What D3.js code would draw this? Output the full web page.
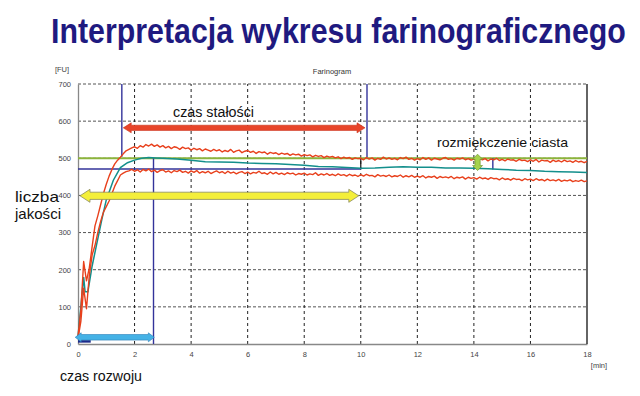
<!DOCTYPE html>
<html>
<head>
<meta charset="utf-8">
<script src="https://cdn.jsdelivr.net/npm/d3@7"></script>
<style>
  body { margin: 0; background: #fff; }
  svg { display: block; }
</style>
</head>
<body>
<svg id="chart" width="640" height="396"></svg>
<script>
// --- data ---
var xTicks = [0, 2, 4, 6, 8, 10, 12, 14, 16, 18];
var yTicks = [0, 100, 200, 300, 400, 500, 600, 700];

// upper edge of the band (red), one value every 0.1 min
var redStep = 0.1;
var upperRed = [
  20, 90, 222, 170, 205, 262, 318, 345, 375, 405,
  430, 452, 470, 485, 495, 503, 512, 520, 524, 528,
  531, 527, 534, 530, 537, 533, 538, 532, 536, 530,
  534, 528, 532, 526, 531, 529, 524, 530, 526, 528,
  522, 527, 523, 526, 520, 525, 522, 519, 524, 520,
  523, 517, 521, 518, 524, 516, 520, 522, 515, 519,
  521, 516, 519, 513, 518, 515, 517, 511, 516, 513,
  515, 510, 514, 511, 513, 508, 512, 509, 511, 506,
  510, 507, 509, 504, 508, 505, 507, 502, 506, 503,
  505, 501, 504, 499, 503, 500, 502, 497, 501, 499,
  500, 496, 502, 498, 501, 495, 500, 497, 503, 498,
  501, 497, 500, 496, 502, 499, 503, 497, 500, 495,
  499, 496, 502, 497, 501, 495, 500, 498, 496, 500,
  502, 497, 499, 495, 500, 498, 501, 496, 499, 495,
  498, 494, 500, 496, 499, 493, 498, 496, 500, 494,
  497, 493, 498, 495, 496, 492, 497, 494, 495, 491,
  496, 492, 497, 490, 495, 493, 494, 489, 495, 491,
  494, 490, 495, 491, 493, 489, 494, 490, 492, 488,
  492
];
// lower edge of the band (red)
var lowerRed = [
  15, 60, 150, 95, 185, 240, 265, 300, 330, 355,
  370, 385, 405, 425, 440, 455, 460, 464, 466, 470,
  465, 469, 463, 470, 466, 471, 464, 468, 462, 467,
  469, 463, 466, 461, 467, 464, 468, 462, 465, 460,
  466, 462, 467, 460, 464, 461, 465, 459, 463, 466,
  461, 464, 459, 465, 460, 463, 458, 462, 464, 459,
  463, 458, 462, 460, 465, 459, 461, 457, 463, 458,
  462, 457, 460, 456, 461, 458, 460, 455, 459, 457,
  460, 455, 458, 456, 461, 454, 458, 455, 459, 454,
  457, 453, 458, 454, 456, 452, 457, 453, 455, 451,
  456, 452, 457, 453, 454, 450, 456, 452, 454, 451,
  455, 450, 453, 451, 455, 449, 453, 450, 454, 449,
  452, 449, 453, 447, 451, 449, 452, 446, 451, 448,
  450, 447, 451, 445, 449, 447, 450, 444, 449, 446,
  448, 444, 449, 445, 447, 443, 448, 445, 446, 442,
  447, 443, 445, 441, 446, 443, 444, 440, 445, 442,
  444, 440, 445, 441, 443, 439, 444, 440, 442, 439,
  443, 438, 441, 439, 442, 437, 440, 438, 441, 437,
  439
];
// centre line (teal)
var tealTime = [0, 0.1, 0.2, 0.25, 0.35, 0.5, 0.65, 0.84, 1.0, 1.25, 1.5, 1.75,
  2.0, 2.25, 2.5, 2.75, 3, 3.5, 4, 4.5, 5, 5.5, 6, 6.5, 7, 7.5, 8, 8.5, 9, 9.5,
  10, 10.5, 11, 11.5, 12, 12.5, 13, 13.5, 14, 14.5, 15, 15.5, 16, 16.5, 17, 17.5, 18];
var tealFU = [20, 100, 180, 141, 141, 210, 265, 334, 388, 441, 475, 488,
  495, 500, 502, 501, 500, 498, 495, 491, 490, 489, 487, 486, 485, 483, 481, 478, 477, 475,
  473, 474, 476, 477, 476, 476, 474, 474, 473, 472, 470, 468, 467, 465, 464, 463, 462];

// reading lines: [time, fuFrom, fuTo]
var consistencyLine = 500;
var navyVerticals = [[1.55, 700, 504], [2.67, 500, 0], [10.22, 700, 503], [14.67, 500, 470]];
var blackVertical = [10.0, 500, 471];
var navyHorizontal = [0, 10.0, 471];
var navyStartLine = [0, 0.45, 7];

// double arrows: [from, to, at]
var stabilityArrow = [1.6, 10.15, 582];
var qualityArrow = [0.07, 9.93, 399];
var developmentArrow = [-0.1, 2.7, 18];
var softeningArrow = [14.13, 511, 467];

// --- layout ---
var svg = d3.select("#chart");
var x = d3.scaleLinear().domain([0, 18]).range([78, 587]);
var y = d3.scaleLinear().domain([0, 700]).range([344, 84]);

// title, squeezed horizontally to the slide's narrow lettering
var title = svg.append("text")
  .style("font-family", "'Liberation Sans Narrow', 'Arial Narrow', 'Liberation Sans', sans-serif")
  .style("font-weight", "bold").style("font-size", "36px")
  .style("fill", "#1f1a80")
  .text("Interpretacja wykresu farinograficznego");
var titleW = title.node().getComputedTextLength();
title.attr("transform", "translate(51,43) scale(" + (575 / titleW) + ",1)");

svg.append("text")
  .attr("x", 332).attr("y", 74).attr("text-anchor", "middle")
  .style("font-family", "'Liberation Sans', Arial, sans-serif").style("font-size", "7.5px")
  .style("fill", "#333").text("Farinogram");

// grid
var grid = svg.append("g");
grid.selectAll(".hg").data(yTicks.filter(function(d) { return d > 0; }))
  .enter().append("line")
    .attr("x1", x(0)).attr("x2", x(18))
    .attr("y1", function(d) { return y(d); }).attr("y2", function(d) { return y(d); })
    .attr("stroke", "#555").attr("stroke-width", 1).attr("stroke-dasharray", "3,2");
grid.selectAll(".vg").data(xTicks.filter(function(d) { return d > 0 && d < 18; }))
  .enter().append("line")
    .attr("y1", y(0)).attr("y2", y(700))
    .attr("x1", function(d) { return x(d); }).attr("x2", function(d) { return x(d); })
    .attr("stroke", "#222").attr("stroke-width", 1).attr("stroke-dasharray", "3,3");

// axes
var ax = d3.axisBottom(x).tickValues(xTicks).tickSize(0).tickPadding(8);
var gx = svg.append("g").attr("transform", "translate(0," + y(0) + ")").call(ax);
var ay = d3.axisLeft(y).tickValues(yTicks).tickSize(0).tickPadding(7);
var gy = svg.append("g").attr("transform", "translate(" + x(0) + ",0)").call(ay);
[gx, gy].forEach(function(g) {
  g.select(".domain").attr("stroke", "#888").attr("stroke-width", 1.3);
  g.selectAll("text").style("font-family", "'Liberation Sans', Arial, sans-serif")
    .style("font-size", "7.5px").style("fill", "#444");
});
svg.append("line")
  .attr("x1", x(18)).attr("x2", x(18)).attr("y1", y(0)).attr("y2", y(700))
  .attr("stroke", "#111").attr("stroke-width", 1.3);

svg.append("text").attr("x", 62).attr("y", 72).attr("text-anchor", "middle")
  .style("font-family", "'Liberation Sans', Arial, sans-serif").style("font-size", "7.5px")
  .style("fill", "#444").text("[FU]");
svg.append("text").attr("x", 599).attr("y", 368).attr("text-anchor", "middle")
  .style("font-family", "'Liberation Sans', Arial, sans-serif").style("font-size", "7.5px")
  .style("fill", "#444").text("[min]");

// consistency line at 500 FU
svg.append("line")
  .attr("x1", x(0)).attr("x2", x(18))
  .attr("y1", y(consistencyLine)).attr("y2", y(consistencyLine))
  .attr("stroke", "#8cb43c").attr("stroke-width", 2);

// navy reading lines
svg.selectAll(".nv").data(navyVerticals).enter().append("line")
  .attr("x1", function(d) { return x(d[0]); }).attr("x2", function(d) { return x(d[0]); })
  .attr("y1", function(d) { return y(d[1]); }).attr("y2", function(d) { return y(d[2]); })
  .attr("stroke", "#33339a").attr("stroke-width", 1.4);
svg.append("line")
  .attr("x1", x(navyHorizontal[0])).attr("x2", x(navyHorizontal[1]))
  .attr("y1", y(navyHorizontal[2])).attr("y2", y(navyHorizontal[2]))
  .attr("stroke", "#33339a").attr("stroke-width", 1.4);
svg.append("line")
  .attr("x1", x(blackVertical[0])).attr("x2", x(blackVertical[0]))
  .attr("y1", y(blackVertical[1])).attr("y2", y(blackVertical[2]))
  .attr("stroke", "#111").attr("stroke-width", 1.2);

// curves
var line = d3.line().x(function(d) { return x(d[0]); }).y(function(d) { return y(d[1]); });
var upperPts = upperRed.map(function(v, i) { return [i * redStep, v]; });
var lowerPts = lowerRed.map(function(v, i) { return [i * redStep, v]; });
var tealPts = tealTime.map(function(t, i) { return [t, tealFU[i]]; });

svg.append("path").datum(tealPts).attr("d", line)
  .attr("fill", "none").attr("stroke", "#138f8c").attr("stroke-width", 1.5);
[upperPts, lowerPts].forEach(function(pts) {
  svg.append("path").datum(pts).attr("d", line)
    .attr("fill", "none").attr("stroke", "#e8401c").attr("stroke-width", 1.4)
    .attr("stroke-linejoin", "round");
});

svg.append("line")
  .attr("x1", x(navyStartLine[0])).attr("x2", x(navyStartLine[1]))
  .attr("y1", y(navyStartLine[2])).attr("y2", y(navyStartLine[2]))
  .attr("stroke", "#1c2a8a").attr("stroke-width", 2.5);

// double arrows
function hArrow(x1, x2, yc, half, headHalf, headLen) {
  return "M" + x1 + "," + yc +
    "L" + (x1 + headLen) + "," + (yc - headHalf) +
    "L" + (x1 + headLen) + "," + (yc - half) +
    "L" + (x2 - headLen) + "," + (yc - half) +
    "L" + (x2 - headLen) + "," + (yc - headHalf) +
    "L" + x2 + "," + yc +
    "L" + (x2 - headLen) + "," + (yc + headHalf) +
    "L" + (x2 - headLen) + "," + (yc + half) +
    "L" + (x1 + headLen) + "," + (yc + half) +
    "L" + (x1 + headLen) + "," + (yc + headHalf) + "Z";
}
function vArrow(xc, y1, y2, half, headHalf, headLen) {
  return "M" + xc + "," + y1 +
    "L" + (xc + headHalf) + "," + (y1 + headLen) +
    "L" + (xc + half) + "," + (y1 + headLen) +
    "L" + (xc + half) + "," + (y2 - headLen) +
    "L" + (xc + headHalf) + "," + (y2 - headLen) +
    "L" + xc + "," + y2 +
    "L" + (xc - headHalf) + "," + (y2 - headLen) +
    "L" + (xc - half) + "," + (y2 - headLen) +
    "L" + (xc - half) + "," + (y1 + headLen) +
    "L" + (xc - headHalf) + "," + (y1 + headLen) + "Z";
}

svg.append("path")
  .attr("d", hArrow(x(stabilityArrow[0]), x(stabilityArrow[1]), y(stabilityArrow[2]), 2.6, 5, 8))
  .attr("fill", "#e8452a").attr("stroke", "#c9321b").attr("stroke-width", 0.6);
svg.append("path")
  .attr("d", hArrow(x(qualityArrow[0]), x(qualityArrow[1]), y(qualityArrow[2]), 3.6, 6.5, 10))
  .attr("fill", "#f4ef3a").attr("stroke", "#8a8a60").attr("stroke-width", 0.8);
svg.append("path")
  .attr("d", hArrow(x(developmentArrow[0]), x(developmentArrow[1]), y(developmentArrow[2]), 2.8, 4.5, 6))
  .attr("fill", "#45b2e6").attr("stroke", "#2a7fb8").attr("stroke-width", 0.6);
svg.append("path")
  .attr("d", vArrow(x(softeningArrow[0]), y(softeningArrow[1]), y(softeningArrow[2]), 2.6, 5, 5))
  .attr("fill", "#a6d24c").attr("stroke", "#6e9a2e").attr("stroke-width", 0.7);

// annotations
var labels = [
  {t: "czas stałości", x: 173, y: 117, size: 14, len: 81},
  {t: "rozmiękczenie ciasta", x: 437, y: 147, size: 13, len: 131},
  {t: "liczba", x: 15, y: 202, size: 14.5, len: 44},
  {t: "jakości", x: 15, y: 219, size: 14.5, len: 46},
  {t: "czas rozwoju", x: 60, y: 381, size: 14, len: 82}
];
svg.selectAll(".lab").data(labels).enter().append("text")
  .attr("x", function(d) { return d.x; }).attr("y", function(d) { return d.y; })
  .attr("textLength", function(d) { return d.len; }).attr("lengthAdjust", "spacingAndGlyphs")
  .style("font-family", "'Liberation Sans', Arial, sans-serif")
  .style("font-size", function(d) { return d.size + "px"; })
  .style("fill", "#111")
  .text(function(d) { return d.t; });
</script>
</body>
</html>
